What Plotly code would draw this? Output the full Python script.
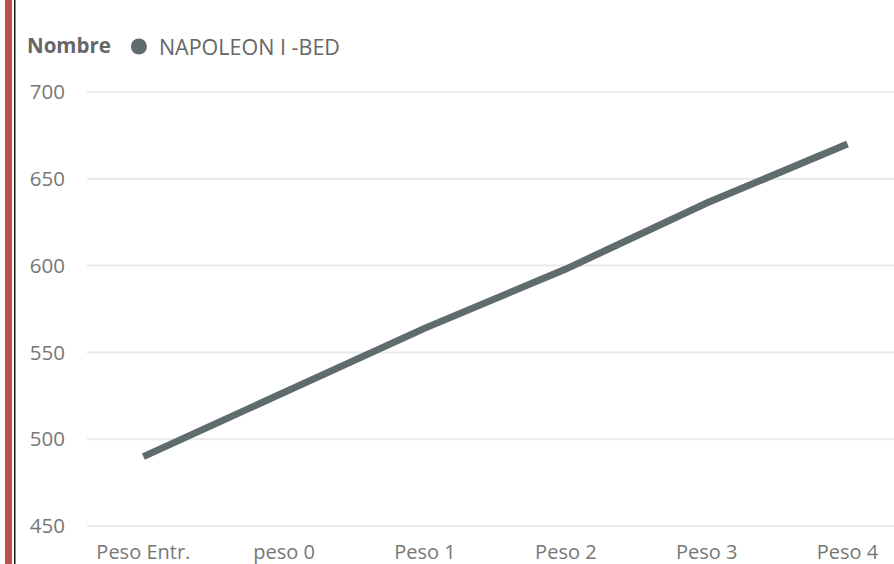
import plotly.graph_objects as go

categories = ["Peso Entr.", "peso 0", "Peso 1", "Peso 2", "Peso 3", "Peso 4"]
values = [490, 527, 564, 598, 636, 670]
series_name = "NAPOLEON I -BED"
legend_title = "Nombre"
y_ticks = [450, 500, 550, 600, 650, 700]

W, H = 894, 564
ML, MR, MT, MB = 87, 0, 91, 37
PW = W - ML - MR
PH = H - MT - MB


def px_x(px):
    return (px - ML) / PW


def px_y(py):
    return (H - MB - py) / PH


FONT = "Open Sans"
LINE_COLOR = "#5F6B6D"
GRID_COLOR = "#E9E9E9"

fig = go.Figure()
fig.add_trace(go.Scatter(
    x=categories, y=values, mode="lines",
    line=dict(color=LINE_COLOR, width=7),
    showlegend=False, hoverinfo="x+y",
))
fig.add_trace(go.Scatter(
    x=[None], y=[None], mode="markers", name=series_name,
    marker=dict(color=LINE_COLOR, size=22, symbol="circle"),
))

grid_shapes = [
    dict(type="line", xref="paper", yref="y", x0=0, x1=1, y0=v, y1=v,
         line=dict(color=GRID_COLOR, width=2), layer="below")
    for v in y_ticks
]

fig.update_layout(
    width=W, height=H,
    margin=dict(l=ML, r=MR, t=MT, b=MB, pad=0),
    paper_bgcolor="white", plot_bgcolor="white",
    font=dict(family=FONT, size=20, color="#777777"),
    showlegend=True,
    legend=dict(
        orientation="h", x=px_x(25), xanchor="left", y=px_y(26), yanchor="top",
        title=dict(text="<b>" + legend_title + "</b>", font=dict(size=20.5, color="#666666")),
        font=dict(size=21.5, color="#666666"),
        itemsizing="trace", bgcolor="rgba(0,0,0,0)",
    ),
    xaxis=dict(
        type="category", range=[-0.4, 5.33], showgrid=False, zeroline=False,
        showline=False, ticks="", tickfont=dict(size=20, color="#777777"),
        ticklabelstandoff=11,
    ),
    yaxis=dict(
        range=[449.5, 700.5], tickvals=y_ticks, showgrid=False,
        zeroline=False, showline=False, ticks="",
        tickfont=dict(size=20.5, color="#777777"), ticklabelstandoff=21,
    ),
    shapes=grid_shapes + [
        dict(type="rect", xref="paper", yref="paper",
             x0=px_x(5), x1=px_x(12), y0=px_y(H), y1=px_y(0),
             fillcolor="#C0504D", line=dict(width=0), layer="above"),
        dict(type="rect", xref="paper", yref="paper",
             x0=px_x(14), x1=px_x(15.5), y0=px_y(H), y1=px_y(0),
             fillcolor="#1a1a1a", line=dict(width=0), layer="above"),
    ],
)

fig.write_html(
    "out.html",
    config={"displayModeBar": False},
    post_script="document.body.style.margin='0';document.body.style.overflow='hidden';",
)
